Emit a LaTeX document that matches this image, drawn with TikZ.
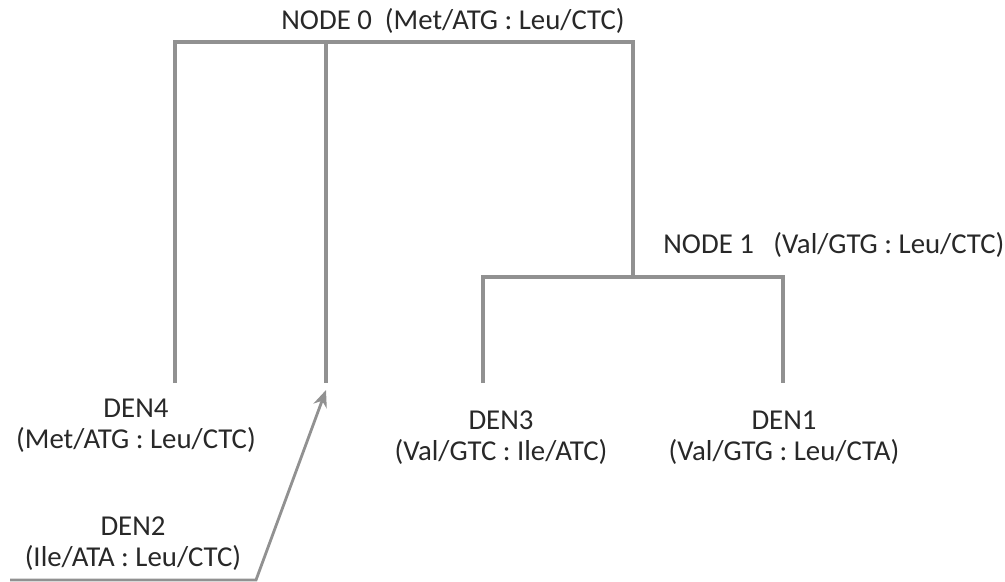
\documentclass[tikz,border=0pt]{standalone}
\usepackage{fontspec}
\setmainfont{Carlito}
\usetikzlibrary{arrows.meta, positioning}
\definecolor{treeGray}{RGB}{145,145,145}
\definecolor{labelInk}{RGB}{40,40,40}

\begin{document}
\begin{tikzpicture}[
    x=0.02cm, y=-0.02cm,
    every node/.style={font=\fontsize{16.4}{17.6}\selectfont, text=labelInk, inner sep=0pt},
    leaf/.style   ={align=center},
    branch/.style ={draw=treeGray, line width=2.1pt},
    pointer/.style={draw=treeGray, line width=1.6pt, -{Stealth[length=3.4mm, width=2.8mm]}}
]
\useasboundingbox (0,0) rectangle (1005,582);
% junction points of the tree
\coordinate (root) at (633,42);
\coordinate (rootL) at (175,42);
\coordinate (den4top) at (175,383);
\coordinate (den2top) at (326,42);
\coordinate (den2end) at (326,383);
\coordinate (node1) at (633,277);
\coordinate (node1L) at (483,277);
\coordinate (node1R) at (783,277);
\coordinate (den3top) at (483,383);
\coordinate (den1top) at (783,383);
% labels
\node (n0) at (453,21) {NODE 0\ \ (Met/ATG : Leu/CTC)};
\node[anchor=west] (n1) at (663,245) {NODE 1\ \ \ (Val/GTG : Leu/CTC)};
\node[leaf] (den4) at (136,426) {DEN4\\(Met/ATG : Leu/CTC)};
\node[leaf] (den2) at (133,544) {DEN2\\(Ile/ATA : Leu/CTC)};
\node[leaf] (den3) at (501,438) {DEN3\\(Val/GTC : Ile/ATC)};
\node[leaf] (den1) at (784,438) {DEN1\\(Val/GTG : Leu/CTA)};
\coordinate (den2L) at (10,580);
\coordinate (den2R) at (256,580);
\coordinate (den2tip) at (326,390);
% branches
\draw[branch] (den4top) -- (rootL) -- (root) -- (node1);
\draw[branch] (den2top) -- (den2end);
\draw[branch] (den3top) -- (node1L) -- (node1R) -- (den1top);
\draw[pointer] (den2L) -- (den2R) -- (den2tip);
\end{tikzpicture}
\end{document}
